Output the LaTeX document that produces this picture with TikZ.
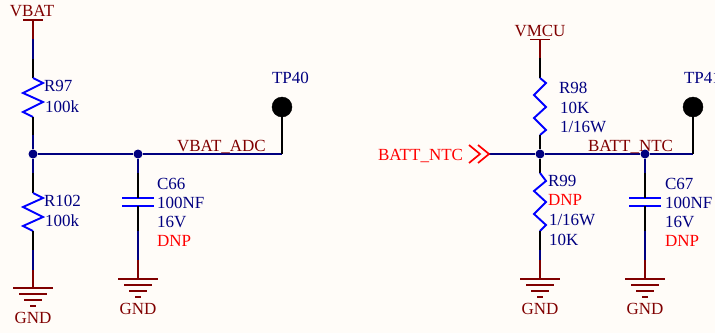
\documentclass[tikz,border=0pt]{standalone}
\usepackage{fontspec}
\setmainfont{Liberation Serif}
\definecolor{bgc}{HTML}{FFFCF8}
\definecolor{pwr}{HTML}{800000}
\definecolor{wire}{HTML}{000080}
\definecolor{part}{HTML}{0000FF}
\definecolor{lbl}{HTML}{000080}
\definecolor{dnp}{HTML}{FF0000}
\tikzset{
  txt/.style={inner sep=0pt,outer sep=0pt,anchor=base west,font=\fontsize{17}{18}\selectfont},
  des/.style={txt,text=lbl},
  net/.style={txt,text=pwr},
  dnpt/.style={txt,text=dnp},
  gndt/.style={net,anchor=base},
  wirel/.style={draw=wire,line width=1.7pt},
  leadl/.style={draw=black,line width=1.7pt},
  pwrl/.style={draw=pwr,line width=1.7pt},
  partl/.style={draw=part,line width=1.9pt},
  joint/.style={circle,fill=wire,inner sep=0pt,minimum size=9pt},
  tpdot/.style={circle,fill=black,draw=black,inner sep=0pt,minimum size=20pt},
}
% ground symbol: #1 name, #2 x, #3 y of top bar
\newcommand{\gndsym}[3]{%
  \coordinate (#1) at (#2,#3);
  \draw[pwrl] ($(#1)+(-20,0)$) -- ($(#1)+(20,0)$);
  \draw[pwrl] ($(#1)+(-14,6)$) -- ($(#1)+(14,6)$);
  \draw[pwrl] ($(#1)+(-9,12)$) -- ($(#1)+(9,12)$);
  \draw[pwrl] ($(#1)+(-3,18)$) -- ($(#1)+(3,18)$);
  \node[gndt] (#1t) at ($(#1)+(0,35)$) {GND};
}
% capacitor plates: #1 name, #2 x
\newcommand{\capsym}[2]{%
  \coordinate (#1a) at (#2,198);
  \coordinate (#1b) at (#2,206);
  \draw[partl] ($(#1a)+(-16,0)$) -- ($(#1a)+(16,0)$);
  \draw[partl] ($(#1b)+(-16,0)$) -- ($(#1b)+(16,0)$);
}
\usetikzlibrary{calc}
\begin{document}
\begin{tikzpicture}[x=1pt,y=-1pt]
\useasboundingbox (0,0) rectangle (715,333);
\fill[bgc] (0,0) rectangle (715,333);
\clip (0,0) rectangle (715,333);

% ---------- left circuit ----------
\coordinate (vbat) at (33,20);
\coordinate (vbat1) at (33,39);
\coordinate (vbat2) at (33,59);
\coordinate (r97t) at (33,78);
\coordinate (r97b) at (33,117);
\coordinate (r97c) at (33,135);
\node[joint] (j1) at (33,154) {};
\node[joint] (j2) at (138,154) {};
\coordinate (corner1) at (282,154);
\node[tpdot] (tp40) at (282,107) {};
\coordinate (r102a) at (33,173);
\coordinate (r102t) at (33,193);
\coordinate (r102b) at (33,231);
\coordinate (r102c) at (33,250);
\coordinate (r102d) at (33,270);
\gndsym{g1}{33}{288}
\capsym{c66}{138}
\coordinate (c66u) at (138,173);
\coordinate (c66v) at (138,212);
\coordinate (c66w) at (138,231);
\coordinate (c66x) at (138,260);
\gndsym{g2}{138}{279}

\draw[pwrl] ($(vbat)+(-10,0)$) -- ($(vbat)+(10,0)$);
\draw[pwrl] (vbat) -- (vbat1);
\draw[wirel] (vbat1) -- (vbat2);
\draw[leadl] (vbat2) -- (r97t);
\draw[partl,line join=miter] (r97t) -- ++(10,5) -- ++(-20,10) -- ++(20,9) -- ++(-20,10) -- (r97b);
\draw[leadl] (r97b) -- (r97c);
\draw[wirel] (r97c) -- (j1);
\draw[wirel] (j1) -- (j2);
\draw[wirel] (j2) -- (corner1);
\draw[leadl] (corner1) -- (tp40);
\draw[wirel] (j1) -- (r102a);
\draw[leadl] (r102a) -- (r102t);
\draw[partl,line join=miter] (r102t) -- ++(10,5) -- ++(-20,9) -- ++(20,10) -- ++(-20,9) -- (r102b);
\draw[leadl] (r102b) -- (r102c);
\draw[wirel] (r102c) -- (r102d);
\draw[pwrl] (r102d) -- (g1);
\draw[wirel] (j2) -- (c66u);
\draw[leadl] (c66u) -- (c66a);
\draw[leadl] (c66b) -- (c66v);
\draw[leadl] (c66v) -- (c66w);
\draw[wirel] (c66w) -- (c66x);
\draw[pwrl] (c66x) -- (g2);

\node[net,anchor=base] (tvbat) at (32,16.5) {VBAT};
\node[des] (tr97) at (44,91) {R97};
\node[des] (tr97v) at (45,112) {100k};
\node[des] (tr102) at (44,206) {R102};
\node[des] (tr102v) at (45,226) {100k};
\node[des] (tc66) at (157,189.5) {C66};
\node[des] (tc66v) at (157,208.5) {100NF};
\node[des] (tc66u) at (157,227.5) {16V};
\node[dnpt] (tc66d) at (157,246) {DNP};
\node[net] (tadc) at (177,151) {VBAT\_ADC};
\node[des] (ttp40) at (272,83.5) {TP40};

% ---------- right circuit ----------
\coordinate (vmcu) at (540,39.5);
\coordinate (vmcu1) at (540,58);
\coordinate (r98t) at (540,78);
\coordinate (r98b) at (540,135);
\node[joint] (j3) at (540,154) {};
\node[joint] (j4) at (645,154) {};
\coordinate (corner2) at (693,154);
\node[tpdot] (tp41) at (693,107) {};
\coordinate (port) at (489,154);
\coordinate (r99t) at (540,173);
\coordinate (r99b) at (540,231);
\coordinate (r99c) at (540,250);
\coordinate (r99d) at (540,260);
\gndsym{g3}{540}{279}
\capsym{c67}{645}
\coordinate (c67u) at (645,173);
\coordinate (c67v) at (645,212);
\coordinate (c67w) at (645,231);
\coordinate (c67x) at (645,260);
\gndsym{g4}{645}{279}

\draw[pwrl] ($(vmcu)+(-10,0)$) -- ($(vmcu)+(10,0)$);
\draw[pwrl] (vmcu) -- (vmcu1);
\draw[leadl] (vmcu1) -- (r98t);
\draw[partl,line join=miter] (r98t) -- ++(6,5) -- ++(-12,12) -- ++(12,12) -- ++(-12,11) -- ++(12,12) -- (r98b);
\draw[leadl] (r98b) -- (j3);
\draw[wirel] (port) -- (j3);
\draw[wirel] (j3) -- (j4);
\draw[wirel] (j4) -- (corner2);
\draw[leadl] (corner2) -- (tp41);
\draw[dnp,line width=1.7pt] ($(port)+(-20,-9)$) -- ($(port)+(-9,0)$) -- ($(port)+(-20,9)$);
\draw[dnp,line width=1.7pt] ($(port)+(-11,-9)$) -- (port) -- ($(port)+(-11,9)$);
\draw[leadl] (j3) -- (r99t);
\draw[partl,line join=miter] (r99t) -- ++(6,8) -- ++(-12,10) -- ++(12,11) -- ++(-12,12) -- ++(12,11) -- (r99b);
\draw[leadl] (r99b) -- (r99c);
\draw[wirel] (r99c) -- (r99d);
\draw[pwrl] (r99d) -- (g3);
\draw[wirel] (j4) -- (c67u);
\draw[leadl] (c67u) -- (c67a);
\draw[leadl] (c67b) -- (c67v);
\draw[leadl] (c67v) -- (c67w);
\draw[wirel] (c67w) -- (c67x);
\draw[pwrl] (c67x) -- (g4);

\node[net,anchor=base] (tvmcu) at (540,36) {VMCU};
\node[des] (tr98) at (559,93) {R98};
\node[des] (tr98v) at (560,113) {10K};
\node[des] (tr98p) at (560,132) {1/16W};
\node[dnpt] (tport) at (378,160) {BATT\_NTC};
\node[net] (tntc) at (588,151) {BATT\_NTC};
\node[des] (ttp41) at (684,83.5) {TP41};
\node[des] (tr99) at (548,186.5) {R99};
\node[dnpt] (tr99d) at (548,205.5) {DNP};
\node[des] (tr99p) at (549,225) {1/16W};
\node[des] (tr99v) at (549,245.5) {10K};
\node[des] (tc67) at (665,189.5) {C67};
\node[des] (tc67v) at (665,208.5) {100NF};
\node[des] (tc67u) at (665,227.5) {16V};
\node[dnpt] (tc67d) at (665,246) {DNP};
\end{tikzpicture}
\end{document}
